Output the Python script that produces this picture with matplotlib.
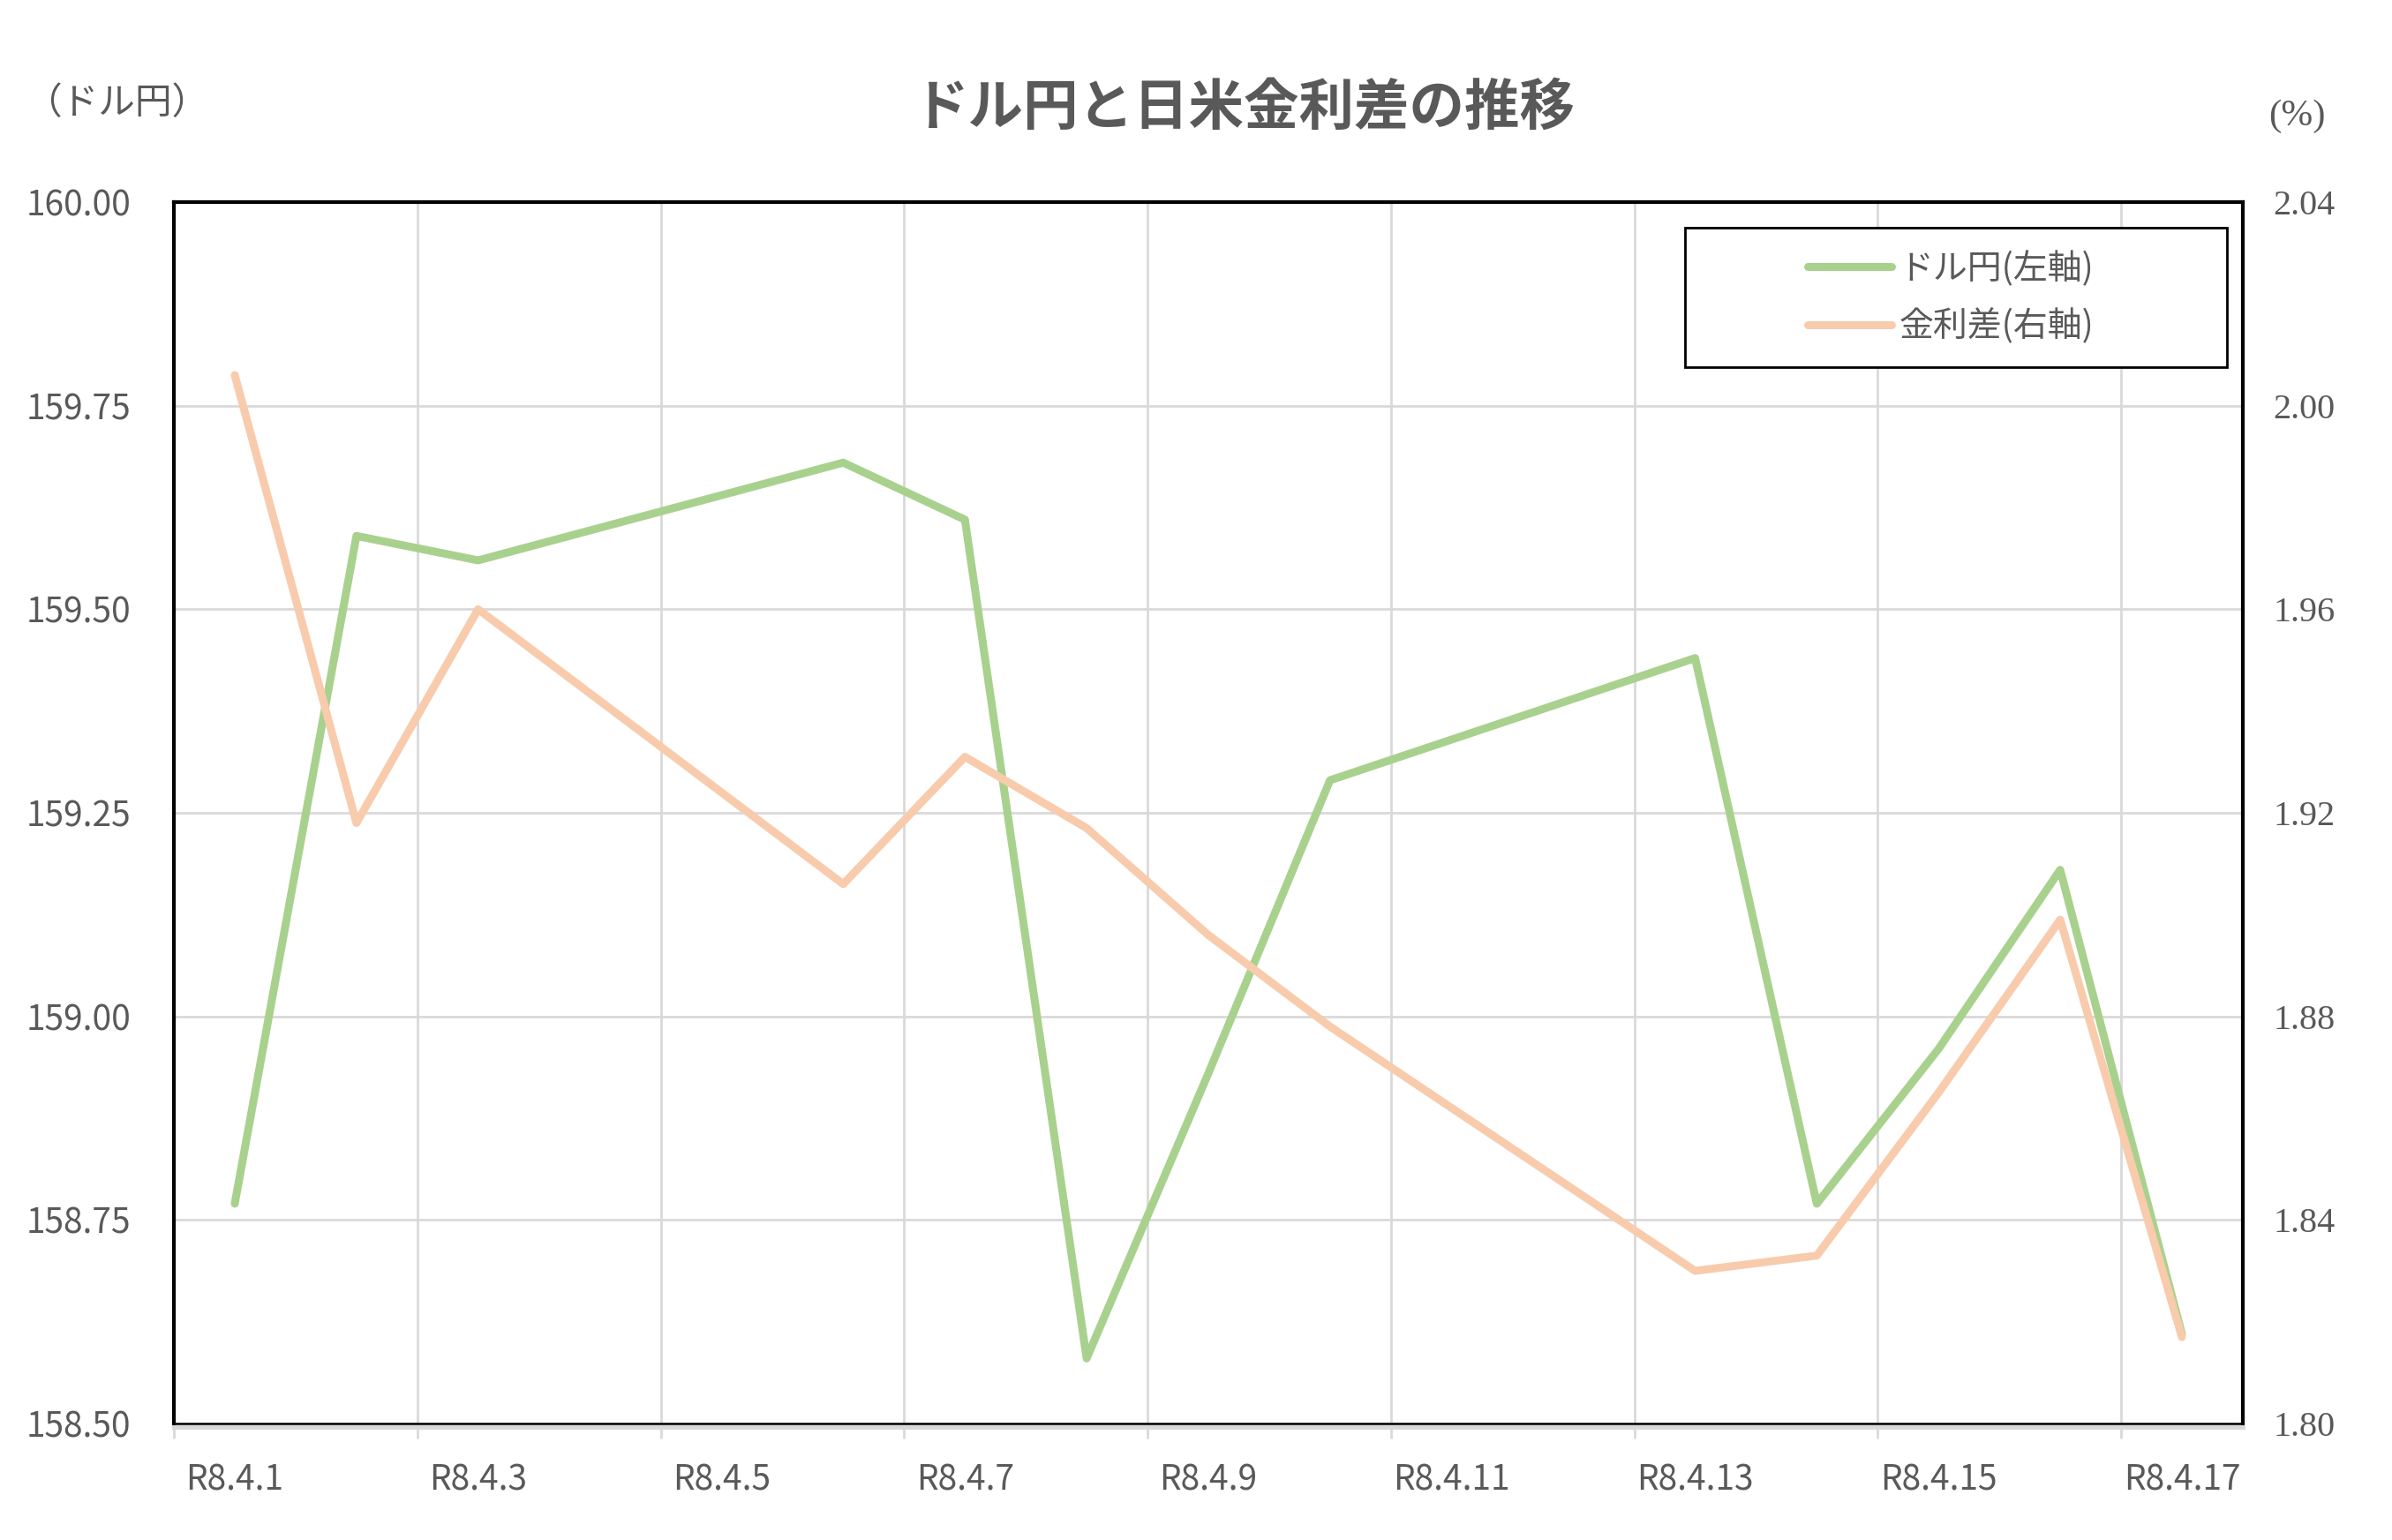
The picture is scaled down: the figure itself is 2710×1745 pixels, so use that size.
import numpy as np
import matplotlib.pyplot as plt
from matplotlib.patches import Rectangle

plt.rcParams['font.family'] = ['Noto Sans CJK JP', 'DejaVu Sans']
SERIF = ['Liberation Serif', 'DejaVu Serif']

# data
dates = ['R8.4.1', 'R8.4.2', 'R8.4.3', 'R8.4.4', 'R8.4.5', 'R8.4.6', 'R8.4.7', 'R8.4.8',
         'R8.4.9', 'R8.4.10', 'R8.4.11', 'R8.4.12', 'R8.4.13', 'R8.4.14', 'R8.4.15',
         'R8.4.16', 'R8.4.17']
usd_jpy = [158.77, 159.59, 159.56, np.nan, np.nan, 159.68, 159.61, 158.58, 158.93,
           159.29, np.nan, np.nan, 159.44, 158.77, 158.96, 159.18, 158.61]
rate_diff = [2.006, 1.918, 1.960, np.nan, np.nan, 1.906, 1.931, 1.917, 1.896,
             1.878, np.nan, np.nan, 1.830, 1.833, 1.865, 1.899, 1.817]
left_ticks = [158.50, 158.75, 159.00, 159.25, 159.50, 159.75, 160.00]
right_ticks = [1.80, 1.84, 1.88, 1.92, 1.96, 2.00, 2.04]

GREEN = '#A9D18E'
ORANGE = '#F8CBAD'
GREY = '#595959'
GRID = '#D9D9D9'

fig = plt.figure(figsize=(27.1, 17.45), dpi=100)
ax1 = fig.add_axes([0.0727, 0.0756, 0.8649, 0.7932])
ax2 = ax1.twinx()

x = np.arange(len(dates))
usd = np.array(usd_jpy)
rd = np.array(rate_diff)
m1 = ~np.isnan(usd)
m2 = ~np.isnan(rd)
l1, = ax1.plot(x[m1], usd[m1], color=GREEN, lw=6.5, solid_capstyle='round',
               solid_joinstyle='round', zorder=3)
l2, = ax2.plot(x[m2], rd[m2], color=ORANGE, lw=6.5, solid_capstyle='round',
               solid_joinstyle='round', zorder=3)

ax1.set_xlim(-0.5, len(dates) - 0.5)
ax1.set_ylim(158.5, 160.0)
ax2.set_ylim(1.80, 2.04)

ax1.set_yticks(left_ticks)
ax1.set_yticklabels(['%.2f' % v for v in left_ticks])
ax2.set_yticks(right_ticks)
ax2.set_yticklabels(['%.2f' % v for v in right_ticks])
ax1.tick_params(axis='y', length=0, pad=35, labelsize=28, labelcolor=GREY)
ax2.tick_params(axis='y', length=0, pad=25, labelsize=29, labelcolor=GREY)
for t in ax2.yaxis.get_majorticklabels():
    t.set_family(SERIF)

# category axis: boundaries every 2 days, labels on the day centres
bounds = np.arange(-0.5, len(dates) - 1, 2)
ax1.set_xticks(bounds)
ax1.set_xticklabels([''] * len(bounds))
ax1.set_xticks(x[::2], minor=True)
ax1.set_xticklabels(dates[::2], minor=True)
ax1.tick_params(axis='x', which='major', length=9, width=2, color=GRID, direction='out')
ax1.tick_params(axis='x', which='minor', length=0, pad=29, labelsize=28, labelcolor=GREY)

ax1.grid(axis='y', color=GRID, lw=2)
ax1.grid(axis='x', which='major', color=GRID, lw=2)
ax1.set_axisbelow(True)

for s in ['top', 'left', 'right']:
    ax1.spines[s].set_color('black')
    ax1.spines[s].set_linewidth(3)
ax1.spines['bottom'].set_color(GRID)
ax1.spines['bottom'].set_linewidth(3.5)
ax1.spines['bottom'].set_position(('outward', 3))
ax1.axhline(158.5, color='black', lw=1.8, clip_on=False, zorder=2)
for s in ax2.spines.values():
    s.set_visible(False)

# legend box
ax2.add_patch(Rectangle((0.7304, 0.8649), 0.2619, 0.1141, transform=ax2.transAxes,
                        facecolor='white', edgecolor='black', lw=2, zorder=5))
leg = ax2.legend([l1, l2], ['ドル円(左軸)', '金利差(右軸)'], loc='center left',
                 bbox_to_anchor=(0.7897, 0.9216), frameon=False, borderpad=0,
                 borderaxespad=0, handlelength=2.45, handletextpad=0.2,
                 labelspacing=0.65, prop={'size': 28}, labelcolor=GREY)
leg.set_zorder(6)

fig.text(0.5203, 0.930, 'ドル円と日米金利差の推移', ha='center', va='center',
         fontsize=45, fontweight='bold', color=GREY)
fig.text(0.0105, 0.9324, '（ドル円）', ha='left', va='center', fontsize=30, color=GREY)
fig.text(0.9483, 0.9244, '(%)', ha='left', va='center', fontsize=31, color=GREY,
         family=SERIF)

fig.savefig('out.png', dpi=100)
